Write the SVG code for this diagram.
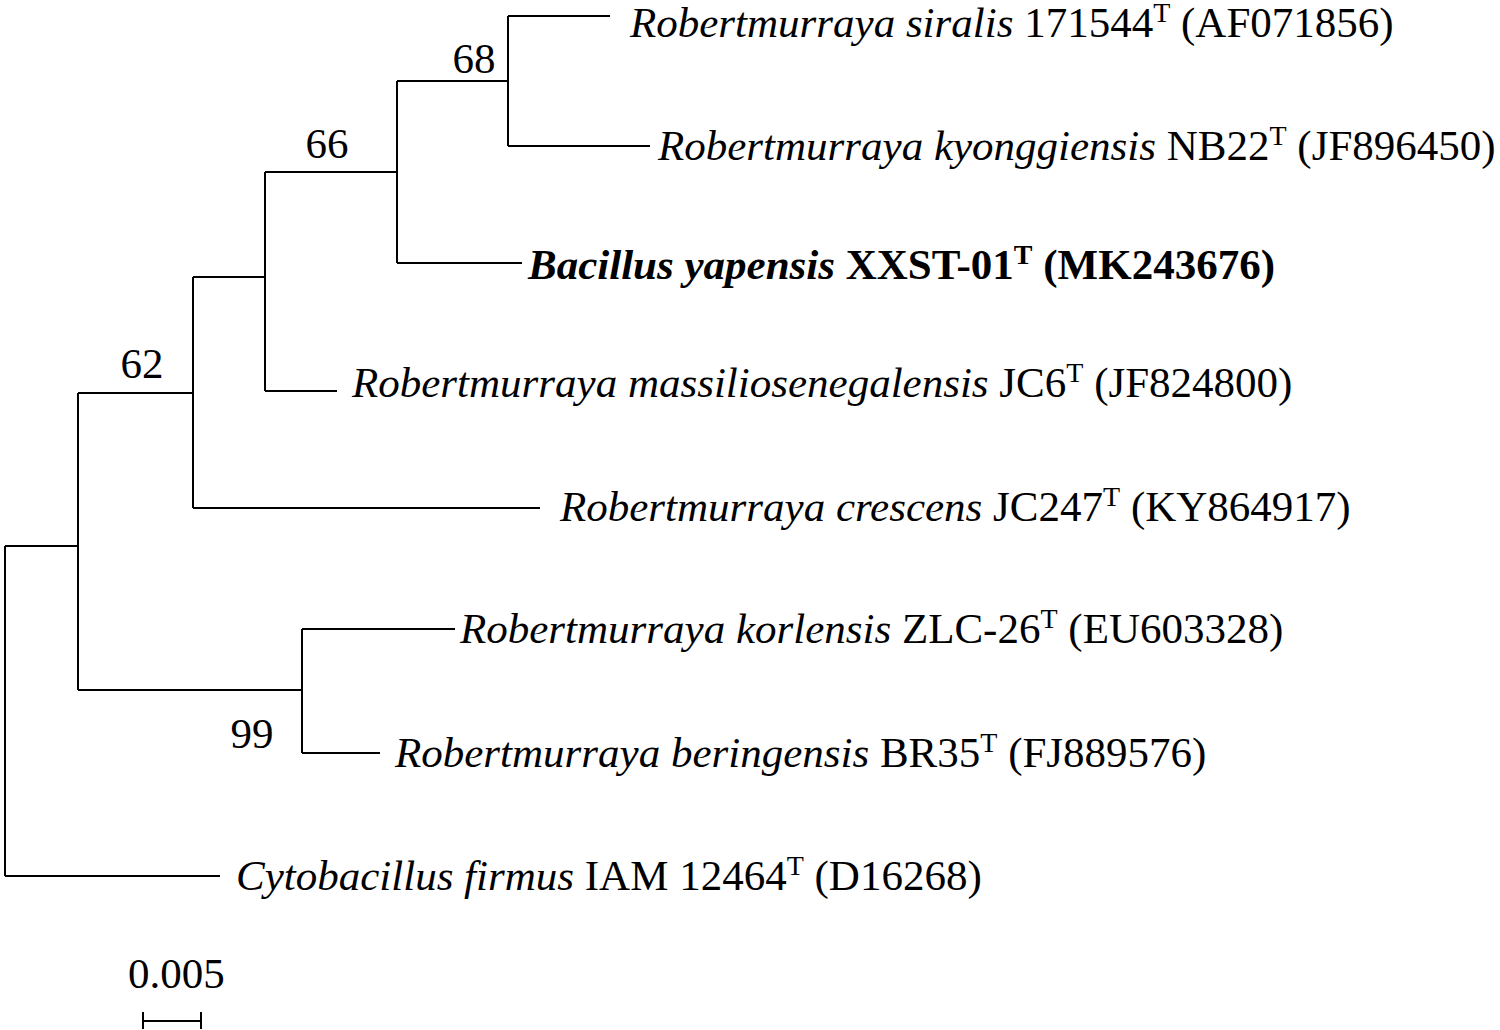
<svg xmlns="http://www.w3.org/2000/svg" width="1500" height="1030" viewBox="0 0 1500 1030">
<style>
text{font-family:"Liberation Serif","Times New Roman",serif;font-size:43px;fill:#000}
.i{font-style:italic}
.s{font-size:28px}
.b{font-weight:bold}
path{stroke:#000;stroke-width:2;fill:none}
</style>
<rect width="1500" height="1030" fill="#fff"/>
<g id="connectors">
<path d="M508 16V146M508 16H610M508 146H650"/>
<path d="M397 81V263M397 81H508M397 263H522"/>
<path d="M265 172V391M265 172H397M265 391H337"/>
<path d="M193 277V508M193 277H265M193 508H540"/>
<path d="M78 393V690M78 393H193M78 690H302"/>
<path d="M302 629V753M302 629H455M302 753H380"/>
<path d="M5 546V876M5 546H78M5 876H220"/>
</g>
<g id="bootstrap">
<text x="474" y="73" text-anchor="middle">68</text>
<text x="327" y="158" text-anchor="middle">66</text>
<text x="142" y="378" text-anchor="middle">62</text>
<text x="252" y="748" text-anchor="middle">99</text>
</g>
<g id="leaf1"><text x="630" y="37"><tspan class="i">Robertmurraya siralis</tspan> 171544<tspan class="s" dy="-15">T</tspan><tspan dy="15"> (AF071856)</tspan></text></g>
<g id="leaf2"><text x="658" y="160"><tspan class="i">Robertmurraya kyonggiensis</tspan> NB22<tspan class="s" dy="-15">T</tspan><tspan dy="15"> (JF896450)</tspan></text></g>
<g id="leaf3"><text x="528" y="279" class="b"><tspan class="i">Bacillus yapensis</tspan> XXST-01<tspan class="s" dy="-15">T</tspan><tspan dy="15"> (MK243676)</tspan></text></g>
<g id="leaf4"><text x="352" y="397"><tspan class="i">Robertmurraya massiliosenegalensis</tspan> JC6<tspan class="s" dy="-15">T</tspan><tspan dy="15"> (JF824800)</tspan></text></g>
<g id="leaf5"><text x="560" y="521"><tspan class="i">Robertmurraya crescens</tspan> JC247<tspan class="s" dy="-15">T</tspan><tspan dy="15"> (KY864917)</tspan></text></g>
<g id="leaf6"><text x="460" y="643"><tspan class="i">Robertmurraya korlensis</tspan> ZLC-26<tspan class="s" dy="-15">T</tspan><tspan dy="15"> (EU603328)</tspan></text></g>
<g id="leaf7"><text x="395" y="767"><tspan class="i">Robertmurraya beringensis</tspan> BR35<tspan class="s" dy="-15">T</tspan><tspan dy="15"> (FJ889576)</tspan></text></g>
<g id="leaf8"><text x="236" y="890"><tspan class="i">Cytobacillus firmus</tspan> IAM 12464<tspan class="s" dy="-15">T</tspan><tspan dy="15"> (D16268)</tspan></text></g>
<g id="scale">
<text x="128" y="988">0.005</text>
<path d="M143 1021H201M143 1012V1029M201 1012V1029"/>
</g>
</svg>
